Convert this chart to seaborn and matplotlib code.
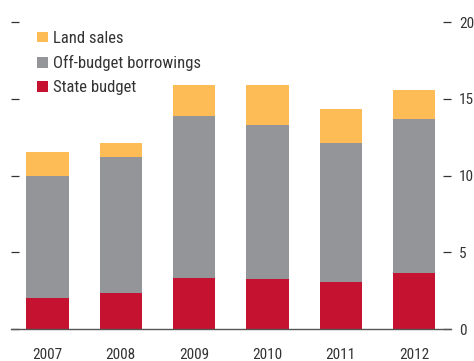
import matplotlib
matplotlib.use("Agg")
import matplotlib.pyplot as plt
from matplotlib import font_manager
import numpy as np
import pandas as pd
import seaborn as sns

years = ["2007", "2008", "2009", "2010", "2011", "2012"]
state_budget = [2.0, 2.35, 3.33, 3.26, 3.07, 3.65]
off_budget = [8.0, 8.85, 10.57, 10.04, 9.06, 10.05]
land_sales = [1.55, 0.95, 2.0, 2.6, 2.22, 1.9]
series_names = ["Land sales", "Off-budget borrowings", "State budget"]
series_colors = ["#FDBC55", "#939598", "#C41230"]
y_ticks = [0, 5, 10, 15, 20]

sns.set_theme(style="white")
installed = {f.name for f in font_manager.fontManager.ttflist}
families = [f for f in ["Liberation Sans Narrow", "Roboto Condensed", "Liberation Sans", "DejaVu Sans"] if f in installed]
plt.rcParams["font.family"] = families
text_color = "#333333"

df = pd.DataFrame({
    "year": years,
    "state": state_budget,
    "off": off_budget,
    "land": land_sales,
})
# stacked heights: draw the tallest cumulative layer first
df["top_land"] = df["state"] + df["off"] + df["land"]
df["top_off"] = df["state"] + df["off"]
df["top_state"] = df["state"]

fig = plt.figure(figsize=(4.74, 3.61), dpi=100)
ax = fig.add_axes([0.023, 0.0886, 0.928, 0.8504])

for col, name, color in zip(["top_land", "top_off", "top_state"], series_names, series_colors):
    sns.barplot(data=df, x="year", y=col, color=color, width=0.575,
                linewidth=0, saturation=1, label=name, ax=ax, err_kws={"linewidth": 0})

ax.set_xlim(-0.5, 5.5)
ax.set_ylim(0, 20)
ax.set_yticks(y_ticks)
ax.set_xlabel("")
ax.set_ylabel("")
for s in ["left", "right", "top"]:
    ax.spines[s].set_visible(False)
ax.spines["bottom"].set_color("#555555")
ax.spines["bottom"].set_linewidth(1.0)

ax.tick_params(axis="y", which="both", left=True, right=True, labelleft=False,
               labelright=True, direction="in", length=6, width=0.9,
               color="#333333", labelsize=11, labelcolor=text_color, pad=6)
ax.tick_params(axis="x", bottom=False, labelsize=11, labelcolor=text_color, pad=8)

leg = ax.legend(loc="upper left", bbox_to_anchor=(0.045, 0.993), frameon=False,
                fontsize=12, handlelength=0.62, handleheight=0.62, handletextpad=0.3,
                labelspacing=0.55, borderaxespad=0, labelcolor=text_color)

fig.savefig("out.png", dpi=100)
